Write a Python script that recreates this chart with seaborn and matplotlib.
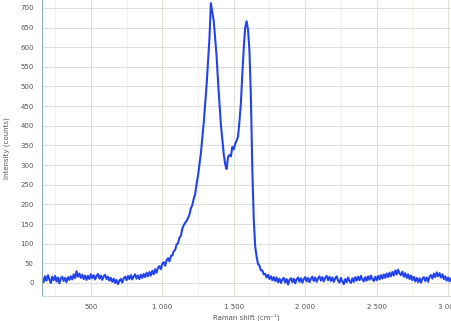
import numpy as np
import pandas as pd
import seaborn as sns
import matplotlib.pyplot as plt
from matplotlib.ticker import FuncFormatter, MultipleLocator

# Raman spectrum, one value every 10 cm-1 from 160 to 3020
shift = np.arange(160, 3030, 10)

# 160 - 900 cm-1, flat noisy baseline
baseline_low = [
    14, 2, 17, 6, 20, 9, 0, 16, 7, 18,
    4, 14, -1, 12, 16, 5, 13, 2, 15, 8,
    17, 9, 22, 12, 30, 16, 24, 13, 21, 10,
    19, 8, 18, 10, 22, 12, 20, 9, 18, 23,
    11, 19, 8, 17, 21, 10, 16, 6, 13, 3,
    11, 0, 8, -3, 6, 10, 1, 12, 16, 7,
    18, 10, 20, 9, 17, 22, 11, 19, 10, 21,
    13, 23, 15, 26, 17,
]

# 910 - 1790 cm-1, D and G bands
bands = [
    28, 19, 31, 22, 35, 26, 39, 43, 35, 49,
    53, 44, 58, 63, 55, 69, 70, 81, 84, 98,
    101, 115, 120, 138, 147, 153, 158, 165, 174, 190,
    198, 214, 226, 252, 273, 302, 330, 370, 408, 457,
    503, 562, 623, 712, 688, 667, 623, 577, 513, 457,
    403, 364, 328, 302, 290, 320, 326, 322, 346, 340,
    354, 362, 373, 412, 458, 532, 598, 650, 666, 644,
    590, 472, 288, 162, 93, 67, 48, 44, 32, 32,
    22, 23, 14, 21, 10, 17, 7, 15, 5,
]

# 1800 - 3020 cm-1, baseline with a weak 2D bump
baseline_high = [
    14, 2, 11, 0, 9, 13, 1, 10, -4, 8,
    12, 2, 11, -1, 9, 14, 3, 12, 1, 10,
    15, 4, 13, 2, 11, 16, 5, 14, 3, 12,
    17, 6, 15, 4, 13, 18, 7, 16, 5, 14,
    3, 12, 17, 6, 1, 13, 4, -3, 10, 2,
    14, 5, 0, 12, 3, 15, 6, 16, 7, 18,
    9, 4, 15, 6, 17, 8, 19, 10, 5, 16,
    7, 18, 9, 20, 11, 22, 13, 24, 15, 26,
    17, 28, 19, 32, 22, 34, 24, 20, 29, 16,
    25, 13, 22, 10, 19, 7, 16, 4, 13, 2,
    12, 1, 11, 15, 5, 14, 3, 16, 20, 11,
    24, 15, 27, 17, 25, 14, 22, 10, 17, 6,
    14, 4, 12,
]

intensity = baseline_low + bands + baseline_high
df = pd.DataFrame({"shift": shift, "intensity": intensity})

sns.set_style("white")
plt.rcParams['font.family'] = ['DejaVu Sans']

fig = plt.figure(figsize=(4.51, 3.21), dpi=100)
ax = fig.add_axes([0.093, 0.078, 0.907, 0.922])

sns.lineplot(data=df, x="shift", y="intensity", ax=ax, color="#2344ea", lw=1.5)

ax.set_xlim(158, 3020)
ax.set_ylim(-33, 720)

# grid
ax.xaxis.set_major_locator(MultipleLocator(500))
ax.xaxis.set_minor_locator(MultipleLocator(250))
ax.yaxis.set_major_locator(MultipleLocator(50))
ax.grid(True, which="major", axis="y", color="#dcdcdc", lw=0.7)
ax.grid(True, which="major", axis="x", color="#dfe3d6", lw=0.8)
ax.grid(True, which="minor", axis="x", color="#eceee6", lw=0.6)
ax.set_axisbelow(True)

fmt = FuncFormatter(lambda v, p: f"{v:,.0f}".replace(",", " "))
ax.xaxis.set_major_formatter(fmt)

ax.tick_params(axis="both", which="major", labelsize=5, colors="#555555",
               length=2, width=0.5, pad=4)
ax.tick_params(axis="x", which="minor", length=0)

for side in ["top", "right"]:
    ax.spines[side].set_visible(False)
ax.spines["left"].set_color("#8fb3b3")
ax.spines["bottom"].set_color("#c8d4d4")
ax.spines["left"].set_linewidth(0.8)
ax.spines["bottom"].set_linewidth(0.6)

ax.set_xlabel("Raman shift (cm\u207b\u00b9)", fontsize=5, color="#555555", labelpad=2)
ax.set_ylabel("Intensity (counts)", fontsize=5, color="#555555", labelpad=7)

fig.savefig("out.png", dpi=100)
